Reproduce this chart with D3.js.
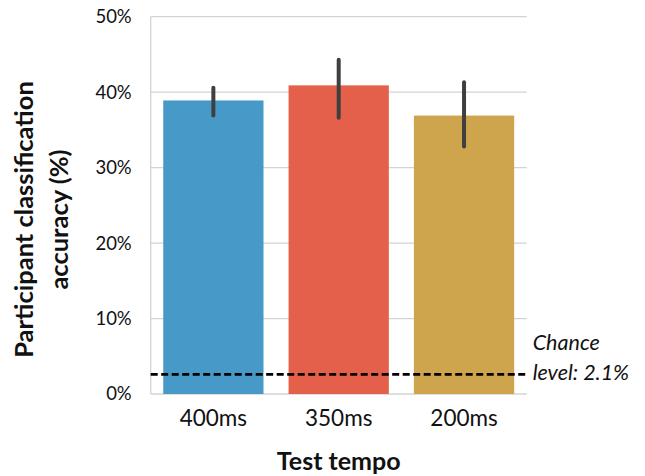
<!DOCTYPE html>
<html lang="en">
<head>
    <meta charset="UTF-8">
    <title>Classification accuracy by tempo</title>
    <style>
        body { margin: 0; background: #fff; }
        text { font-family: Lato, "Noto Sans", sans-serif; fill: #111; }
    </style>
</head>
<body>
    <svg id="chart" width="645" height="476"></svg>
    <script src="https://cdn.jsdelivr.net/npm/d3@7/dist/d3.min.js"></script>
    <script>
        var tempos = ["400ms", "350ms", "200ms"];
        var accuracy = [38.9, 40.9, 36.9];
        var ciLow = [36.9, 36.6, 32.8];
        var ciHigh = [40.6, 44.3, 41.3];
        var barColors = ["#479ac7", "#e5604b", "#cea54d"];
        var yTicks = [0, 10, 20, 30, 40, 50];
        var chanceLevel = 2.6;
        var chanceLabel = ["Chance", "level: 2.1%"];

        var width = 645, height = 476;
        var margin = {top: 16.7, right: 118.3, bottom: 82, left: 150.7};

        var svg = d3.select("#chart")
            .attr("viewBox", [0, 0, width, height]);

        var x = d3.scaleBand()
            .domain(tempos)
            .range([margin.left, width - margin.right])
            .paddingInner(0.2)
            .paddingOuter(0.1);

        var y = d3.scaleLinear()
            .domain([0, 50])
            .range([height - margin.bottom, margin.top]);

        // grid
        svg.append("g")
            .selectAll("line")
            .data(yTicks)
            .join("line")
            .attr("x1", margin.left)
            .attr("x2", width - margin.right)
            .attr("y1", d => y(d))
            .attr("y2", d => y(d))
            .attr("stroke", "#d3d3d3")
            .attr("stroke-width", 1.3);

        // left spine
        svg.append("line")
            .attr("x1", margin.left)
            .attr("x2", margin.left)
            .attr("y1", y(0))
            .attr("y2", y(50))
            .attr("stroke", "#d3d3d3")
            .attr("stroke-width", 1.3);

        // y tick labels
        svg.append("g")
            .attr("transform", `translate(${margin.left - 16},0)`)
            .call(d3.axisLeft(y).tickValues(yTicks).tickSize(0).tickFormat(d => d + "%"))
            .call(g => g.select(".domain").remove())
            .call(g => g.selectAll("text")
                .attr("font-family", "Lato, sans-serif")
                .attr("font-size", 18.5)
                .attr("fill", "#111"));

        // bars
        svg.append("g")
            .selectAll("rect")
            .data(tempos)
            .join("rect")
            .attr("x", d => x(d))
            .attr("y", (d, i) => y(accuracy[i]))
            .attr("width", x.bandwidth())
            .attr("height", (d, i) => y(0) - y(accuracy[i]))
            .attr("fill", (d, i) => barColors[i]);

        // error bars
        svg.append("g")
            .selectAll("line")
            .data(tempos)
            .join("line")
            .attr("x1", d => x(d) + x.bandwidth() / 2)
            .attr("x2", d => x(d) + x.bandwidth() / 2)
            .attr("y1", (d, i) => y(ciLow[i]))
            .attr("y2", (d, i) => y(ciHigh[i]))
            .attr("stroke", "#3f3f3f")
            .attr("stroke-width", 4)
            .attr("stroke-linecap", "round");

        // x tick labels
        svg.append("g")
            .attr("transform", `translate(0,${y(0) + 13})`)
            .call(d3.axisBottom(x).tickSize(0))
            .call(g => g.select(".domain").remove())
            .call(g => g.selectAll("text")
                .attr("font-family", "Lato, sans-serif")
                .attr("font-size", 22.5)
                .attr("fill", "#111"));

        // chance line
        svg.append("line")
            .attr("x1", margin.left)
            .attr("x2", width - margin.right - 1.5)
            .attr("y1", y(chanceLevel))
            .attr("y2", y(chanceLevel))
            .attr("stroke", "#000")
            .attr("stroke-width", 2.8)
            .attr("stroke-dasharray", "7,3.5");

        svg.append("text")
            .attr("x", width - margin.right + 6)
            .attr("font-size", 21.5)
            .attr("font-style", "italic")
            .attr("fill", "#222")
            .selectAll("tspan")
            .data(chanceLabel)
            .join("tspan")
            .attr("x", width - margin.right + 6)
            .attr("y", (d, i) => 350 + i * 30)
            .text(d => d);

        // axis titles
        svg.append("text")
            .attr("x", (margin.left + width - margin.right) / 2)
            .attr("y", 470)
            .attr("text-anchor", "middle")
            .attr("font-size", 25)
            .attr("font-weight", "bold")
            .text("Test tempo");

        svg.append("text")
            .attr("transform", "translate(33,219.5) rotate(-90)")
            .attr("text-anchor", "middle")
            .attr("font-size", 25.5)
            .attr("font-weight", "bold")
            .text("Participant classification");

        svg.append("text")
            .attr("transform", "translate(68,219.5) rotate(-90)")
            .attr("text-anchor", "middle")
            .attr("font-size", 25.5)
            .attr("font-weight", "bold")
            .text("accuracy (%)");
    </script>
</body>
</html>
